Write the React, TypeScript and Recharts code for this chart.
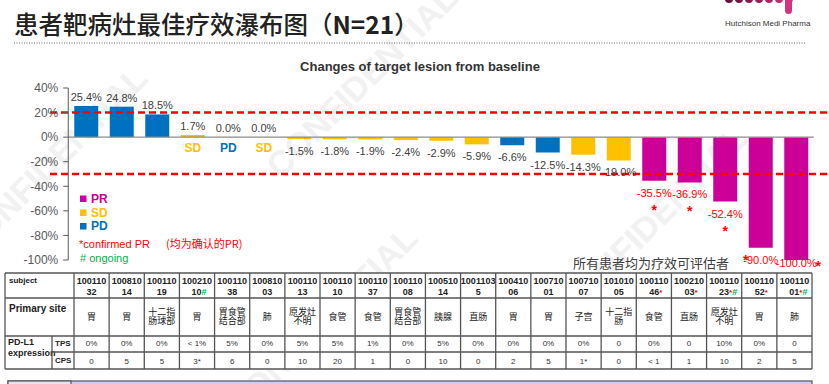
import React from 'react';
import { BarChart, Bar, XAxis, YAxis, ReferenceLine, Cell, LabelList } from 'recharts';

// ---------- data ----------
const subjectLine1 = ['100110', '100810', '100110', '100210', '100110', '100810', '100110', '100110', '100110', '100110', '100510', '1001103', '100410', '100710', '100710', '101010', '100110', '100210', '100110', '100110', '100110'];
const subjectLine2 = ['32', '14', '19', '10', '38', '03', '13', '10', '37', '08', '14', '5', '06', '01', '07', '05', '46', '03', '23', '52', '01'];
const subjectMarks = ['', '', '', '#', '', '', '', '', '', '', '', '', '', '', '', '', '*', '*', '*#', '*', '*#'];
const changeValues = [25.4, 24.8, 18.5, 1.7, 0.0, 0.0, -1.5, -1.8, -1.9, -2.4, -2.9, -5.9, -6.6, -12.5, -14.3, -19.0, -35.5, -36.9, -52.4, -90.0, -100.0];
const responses = ['PD', 'PD', 'PD', 'SD', 'PD', 'SD', 'SD', 'SD', 'SD', 'SD', 'SD', 'SD', 'PD', 'PD', 'SD', 'SD', 'PR', 'PR', 'PR', 'PR', 'PR'];
const confirmedMark = ['', '', '', '', '', '', '', '', '', '', '', '', '', '', '', '', 'below', 'below', 'below', 'before', 'after'];
const primarySites = ['胃', '胃', '十二指\n肠球部', '胃', '胃食管\n结合部', '肺', '原发灶\n不明', '食管', '食管', '胃食管\n结合部', '胰腺', '直肠', '胃', '胃', '子宫', '十二指\n肠', '食管', '直肠', '原发灶\n不明', '胃', '肺'];
const tpsValues = ['0%', '0%', '0%', '< 1%', '5%', '0%', '5%', '5%', '1%', '0%', '5%', '0%', '0%', '0%', '0%', '0', '0%', '0', '10%', '0%', '0'];
const cpsValues = ['0', '5', '5', '3*', '6', '0', '10', '20', '1', '0', '10', '0', '2', '5', '1*', '0', '< 1', '1', '10', '2', '5'];
const yTicks = [40, 20, 0, -20, -40, -60, -80, -100];
const legendItems = ['PR', 'SD', 'PD'];

const COLORS: Record<string, string> = { PR: '#CC0099', SD: '#FFC000', PD: '#0070C0' };
const FONT = '"Liberation Sans", Arial, sans-serif';
const CJK = '"Noto Sans CJK SC", "Noto Sans", sans-serif';

const data = changeValues.map((v, i) => ({ idx: i, subject: subjectLine1[i] + subjectLine2[i], value: v }));

function BarLabel(props: any) {
  const vb = props.viewBox || {};
  const x = props.x ?? vb.x;
  const y = props.y ?? vb.y;
  const width = props.width ?? vb.width;
  const height = props.height ?? vb.height;
  const index = props.value as number;
  const v = changeValues[index];
  const r = responses[index];
  const cx = x + width / 2;
  const top = Math.min(y, y + height);
  const bottom = Math.max(y, y + height);
  const text = `${v.toFixed(1)}%`;
  if (v >= 0) {
    return (
      <g>
        <text x={cx} y={top - 5} textAnchor="middle" fontSize={11} fill="#404040" fontFamily={FONT}>{text}</text>
        {v < 2 && (
          <text x={cx} y={bottom + 15} textAnchor="middle" fontSize={12} fontWeight="bold" fill={COLORS[r]} fontFamily={FONT}>{r}</text>
        )}
      </g>
    );
  }
  const base = Math.min(bottom + 16, 267);
  const isPR = r === 'PR';
  const mark = confirmedMark[index];
  return (
    <g>
      <text x={cx} y={base} textAnchor="middle" fontSize={11} fill={isPR ? '#FF0000' : '#404040'} fontFamily={FONT}>{text}</text>
      {mark === 'below' && (
        <text x={cx} y={base + 18} textAnchor="middle" fontSize={14} fontWeight="bold" fill="#FF0000" fontFamily={FONT}>*</text>
      )}
      {mark === 'before' && (
        <text x={cx - 15} y={base + 1} textAnchor="middle" fontSize={14} fontWeight="bold" fill="#FF0000" fontFamily={FONT}>*</text>
      )}
      {mark === 'after' && (
        <text x={cx + 22} y={base + 4} textAnchor="middle" fontSize={14} fontWeight="bold" fill="#FF0000" fontFamily={FONT}>*</text>
      )}
    </g>
  );
}

const dashedShape = (p: any) => (
  <line x1={50} y1={p.y1} x2={829} y2={p.y2} stroke="#FF0000" strokeWidth={2.5} strokeDasharray="7 4" />
);

// ---------- table geometry ----------
const TL = 5;
const TC0 = 74;
const TR = 812;
const colW = (TR - TC0) / 21;
const rowY = [273, 298, 336, 352, 369];

function Table() {
  const lines: React.ReactNode[] = [];
  const stroke = '#555';
  lines.push(<line key="h0" x1={TL} x2={TR} y1={rowY[0]} y2={rowY[0]} stroke={stroke} strokeWidth={1.3} />);
  lines.push(<line key="h1" x1={TL} x2={TR} y1={rowY[1]} y2={rowY[1]} stroke={stroke} strokeWidth={1.3} />);
  lines.push(<line key="h2" x1={TL} x2={TR} y1={rowY[2]} y2={rowY[2]} stroke={stroke} strokeWidth={1.3} />);
  lines.push(<line key="h3" x1={52} x2={TR} y1={rowY[3]} y2={rowY[3]} stroke={stroke} strokeWidth={1.3} />);
  lines.push(<line key="h4" x1={TL} x2={TR} y1={rowY[4]} y2={rowY[4]} stroke={stroke} strokeWidth={1.3} />);
  lines.push(<line key="vL" x1={TL} x2={TL} y1={rowY[0]} y2={rowY[4]} stroke={stroke} strokeWidth={1.3} />);
  lines.push(<line key="vS" x1={52} x2={52} y1={rowY[2]} y2={rowY[4]} stroke={stroke} strokeWidth={1.3} />);
  for (let i = 0; i <= 21; i++) {
    const x = TC0 + i * colW;
    lines.push(<line key={'v' + i} x1={x} x2={x} y1={rowY[0]} y2={rowY[4]} stroke={stroke} strokeWidth={1.3} />);
  }
  const cells: React.ReactNode[] = [];
  for (let i = 0; i < 21; i++) {
    const cx = TC0 + (i + 0.5) * colW;
    const mark = subjectMarks[i];
    cells.push(
      <text key={'s1' + i} x={cx} y={283.5} textAnchor="middle" fontSize={9} fontWeight="bold" fill="#222" fontFamily={FONT}>{subjectLine1[i]}</text>
    );
    cells.push(
      <text key={'s2' + i} x={cx + (mark ? mark.length * 2 : 0)} y={294.5} textAnchor="middle" fontSize={9} fontWeight="bold" fill="#222" fontFamily={FONT}>
        {subjectLine2[i]}
        {mark.split('').map((m, k) => (
          <tspan key={k} fill={m === '#' ? '#00B050' : '#FF0000'} fontSize={m === '#' ? 9 : 8}>{m}</tspan>
        ))}
      </text>
    );
    const parts = primarySites[i].split('\n');
    parts.forEach((p, k) => {
      const cy = parts.length === 1 ? 316.5 : (k === 0 ? 311.5 : 320.5);
      cells.push(
        <text key={'p' + i + k} x={cx} y={cy + 3.3} textAnchor="middle" fontSize={9} fill="#222" fontFamily={CJK}>{p}</text>
      );
    });
    cells.push(
      <text key={'t' + i} x={cx} y={346} textAnchor="middle" fontSize={8} fill="#333" fontFamily={FONT}>{tpsValues[i]}</text>
    );
    cells.push(
      <text key={'c' + i} x={cx} y={363.5} textAnchor="middle" fontSize={8} fill="#333" fontFamily={FONT}>{cpsValues[i]}</text>
    );
  }
  return (
    <g>
      <rect x={TL} y={rowY[0]} width={TR - TL} height={rowY[4] - rowY[0]} fill="#fff" />
      {cells}
      <text x={9} y={283} fontSize={8} fontWeight="bold" fill="#222" fontFamily={FONT}>subject</text>
      <text x={9} y={311.5} fontSize={10} fontWeight="bold" fill="#222" fontFamily={FONT}>Primary site</text>
      <text x={8} y={345} fontSize={9} fontWeight="bold" fill="#222" fontFamily={FONT}>PD-L1</text>
      <text x={8} y={356} fontSize={9} fontWeight="bold" fill="#222" fontFamily={FONT}>expression</text>
      <text x={55} y={345.5} fontSize={8} fontWeight="bold" fill="#222" fontFamily={FONT}>TPS</text>
      <text x={55} y={363} fontSize={8} fontWeight="bold" fill="#222" fontFamily={FONT}>CPS</text>
      {lines}
      <rect x={8} y={381} width={804} height={10} fill="#CCCCFF" stroke="#555" strokeWidth={1.2} />
      <rect x={8} y={381} width={63} height={10} fill="#E4E4F2" stroke="#555" strokeWidth={1.2} />
    </g>
  );
}

function Watermarks() {
  const items = [
    { x: 60, y: 170, t: 'CONFIDENTIAL' },
    { x: 370, y: 90, t: 'CONFIDENTIAL' },
    { x: 660, y: 230, t: 'CONFIDENTIAL' },
    { x: 330, y: 330, t: 'CONFIDENTIAL' },
  ];
  return (
    <g>
      {items.map((it, i) => (
        <text key={i} x={it.x} y={it.y} textAnchor="middle" fontSize={34} fontWeight="bold" fill="#f1f1f1"
          fontFamily={FONT} transform={`rotate(-45 ${it.x} ${it.y})`}>{it.t}</text>
      ))}
    </g>
  );
}

export default function App() {
  return (
    <div style={{ position: 'absolute', left: 0, top: 0, width: 829, height: 384, background: '#fff', overflow: 'hidden' }}>
      <svg width={829} height={384} style={{ position: 'absolute', left: 0, top: 0 }}>
        <Watermarks />
      </svg>
      <div style={{ position: 'absolute', left: 0, top: 0 }}>
        <BarChart width={829} height={384} data={data} margin={{ top: 88, right: 15.25, bottom: 124, left: 8.25 }}
          barCategoryGap={0} style={{ fontFamily: FONT }}>
          <XAxis dataKey="subject" hide />
          <YAxis domain={[-100, 40]} ticks={yTicks} width={60} tickFormatter={(v: number) => `${v}%`}
            tick={{ fill: '#595959', fontSize: 12, fontFamily: FONT }} tickSize={5} tickMargin={5}
            axisLine={{ stroke: '#595959' }} tickLine={{ stroke: '#595959' }} interval={0} allowDataOverflow />
          <ReferenceLine y={0} stroke="#8c8c8c" strokeWidth={1.2} />
          <ReferenceLine y={20} shape={dashedShape} />
          <ReferenceLine y={-30} shape={dashedShape} />
          <Bar dataKey="value" barSize={24} isAnimationActive={false}
            minPointSize={(value: number) => (value === 0 ? 0.05 : 0)}>
            {data.map((d) => (
              <Cell key={d.idx} fill={COLORS[responses[d.idx]]} />
            ))}
            <LabelList dataKey="idx" content={BarLabel} />
          </Bar>
        </BarChart>
      </div>
      <svg width={829} height={384} style={{ position: 'absolute', left: 0, top: 0, pointerEvents: 'none' }}>
        <text x={14} y={34} fontSize={24.5} fontWeight={500} fill="#222" fontFamily={CJK}>
          患者靶病灶最佳疗效瀑布图（<tspan fontWeight="bold">N=21</tspan>）
        </text>
        <line x1={14} x2={806} y1={43} y2={43} stroke="#666" strokeWidth={1} strokeDasharray="1 1.5" />
        {[0, 1, 2, 3, 4, 5, 6].map((i) => (
          <circle key={i} cx={729 + i * 10} cy={-1} r={4} fill={['#6b0f3a', '#7d1342', '#8f174a', '#a11c55', '#b52262', '#c9296f', '#d9307c'][i]} />
        ))}
        <rect x={785} y={-5} width={7} height={19} rx={3.5} fill="#D6337F" />
        <text x={725} y={26} fontSize={8} fill="#333" fontFamily={FONT}>Hutchison Medi Pharma</text>
        <text x={420} y={71} textAnchor="middle" fontSize={13} fontWeight="bold" fill="#333" fontFamily={FONT}>Changes of target lesion from baseline</text>
        {legendItems.map((k, i) => (
          <g key={k}>
            <rect x={80} y={[195.5, 209.5, 223][i]} width={6.5} height={6.5} fill={COLORS[k]} />
            <text x={91} y={[202.7, 216.7, 230][i]} fontSize={12} fontWeight="bold" fill={COLORS[k]} fontFamily={FONT}>{k}</text>
          </g>
        ))}
        <text x={79} y={247.7} fontSize={11} fill="#FF0000" fontFamily={FONT}>*confirmed PR</text>
        <text x={166} y={247.7} fontSize={11} fill="#FF0000" fontFamily={CJK}>(均为确认的PR)</text>
        <text x={80} y={261.5} fontSize={11} fill="#00B050" fontFamily={FONT}># ongoing</text>
        <text x={573} y={267.5} fontSize={13} fill="#404040" fontFamily={CJK}>所有患者均为疗效可评估者</text>
        <Table />
      </svg>
    </div>
  );
}
